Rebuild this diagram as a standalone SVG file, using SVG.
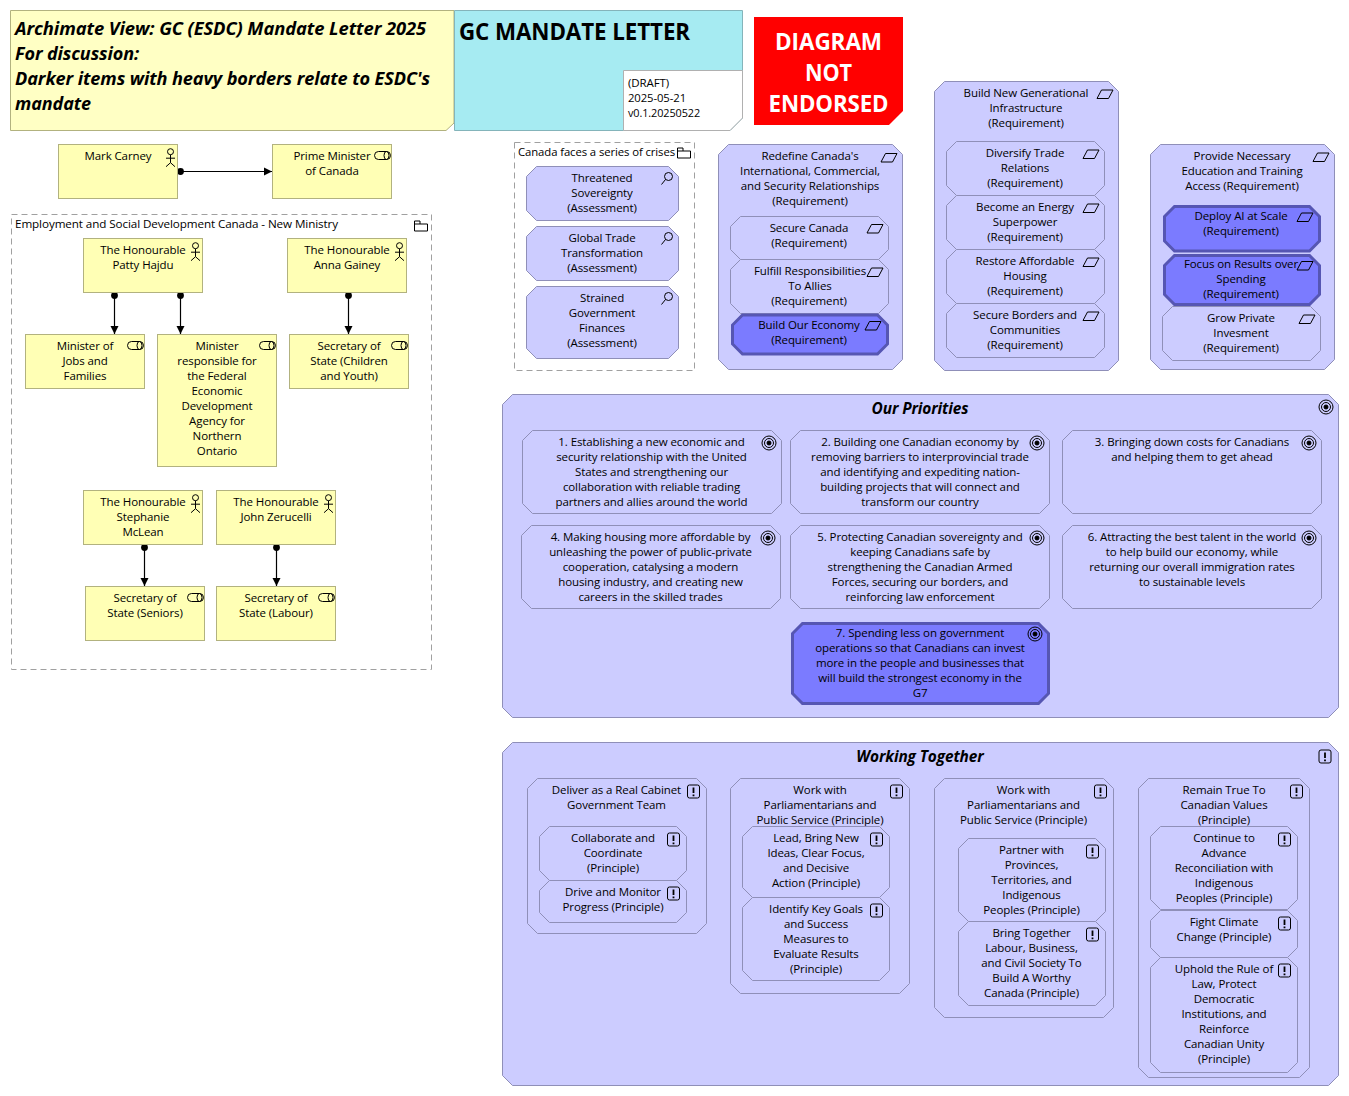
<svg xmlns="http://www.w3.org/2000/svg" width="1349" height="1096" viewBox="0 0 1349 1096">
<style>
text{font-family:"Open Sans","Noto Sans","Liberation Sans",sans-serif;font-size:11.5px;fill:#000;letter-spacing:-.1px}
.c{text-anchor:middle}
.y{fill:#ffffb5;stroke:#b2b27f;stroke-width:1}
.b{fill:#ccccff;stroke:#8f8fb8;stroke-width:1}
.d{fill:#7b7bff;stroke:#5656b3;stroke-width:3}
.g{fill:none;stroke:#a0a0a0;stroke-width:1;stroke-dasharray:6 4}
.i{fill:none;stroke:#000;stroke-width:1}
.t{font-size:15.4px;font-weight:700;font-style:italic}
.h{font-size:18px;font-weight:700;font-style:italic}
.w{fill:#fff;font-size:24px;font-weight:700}
.ln{stroke:#000;stroke-width:1.2;fill:none;marker-start:url(#dot);marker-end:url(#arr)}
</style>
<defs>
<marker id="dot" markerUnits="userSpaceOnUse" markerWidth="8" markerHeight="8" refX="4" refY="4"><circle cx="4" cy="4" r="3.4" fill="#000"/></marker>
<marker id="arr" markerUnits="userSpaceOnUse" markerWidth="9" markerHeight="9" refX="8" refY="4.5" orient="auto"><path d="M0 .5L8 4.5L0 8.500z" fill="#000"/></marker>
<g id="actor" class="i"><circle cx="0" cy="0" r="3"/><path d="M0 3V11M-4.500 6.500H4.500M0 11L-4.500 15M0 11L4.500 15"/></g>
<g id="role" class="i"><rect x="0" y="0" width="16" height="8" rx="4"/><ellipse cx="12" cy="4" rx="2.500" ry="4"/></g>
<path id="req" class="i" d="M4.500 .5H16L11.500 9H0z"/>
<g id="goal" class="i"><circle r="7"/><circle r="4.500"/><circle r="2" fill="#000"/></g>
<g id="prin"><rect x="-6" y="-6.500" width="12" height="13" rx="2" class="i"/><path d="M0 -4V1.500M0 3V4.800" stroke="#000" stroke-width="1.800" fill="none"/></g>
<path id="folder" class="i" d="M.5 .5H6V3.500H13.500V10.500H.5zM6 3.500H.5"/>
</defs>

<g id="connectors">
<path class="ln" d="M180.500 171.500H272"/>
<path class="ln" d="M114.500 295.500V334"/>
<path class="ln" d="M180.500 295.500V334"/>
<path class="ln" d="M348.500 295.500V334"/>
<path class="ln" d="M144.500 547.500V586"/>
<path class="ln" d="M276.500 547.500V586"/>
</g>

<g id="note-title"><path d="M10.500 10.500H454V123L446 130.500H10.500z" fill="#ffffc4" stroke="#b2b27f"/>
<text class="h" x="15" textLength="411" lengthAdjust="spacingAndGlyphs" y="34.500">Archimate View: GC (ESDC) Mandate Letter 2025</text>
<text class="h" x="15" y="59.500" textLength="124" lengthAdjust="spacingAndGlyphs">For discussion:</text>
<text class="h" x="15" y="84.500" textLength="415" lengthAdjust="spacingAndGlyphs">Darker items with heavy borders relate to ESDC's</text>
<text class="h" x="15" y="109.500" textLength="76" lengthAdjust="spacingAndGlyphs">mandate</text></g>

<g id="title-block"><path d="M454.500 10.500H742.500V118L730 130.500H454.500z" fill="#a6ebf2" stroke="#84b4ba"/>
<text x="459" y="40" style="font-size:24px;font-weight:700" textLength="231" lengthAdjust="spacingAndGlyphs">GC MANDATE LETTER</text></g>
<g id="note-version"><path d="M623.500 70.500H742.500V118L730 130.500H623.500z" fill="#fff" stroke="#b0b0b0"/>
<text x="628" y="87">(DRAFT)</text><text x="628" y="102" textLength="58" lengthAdjust="spacingAndGlyphs">2025-05-21</text><text x="628" y="117" textLength="72" lengthAdjust="spacingAndGlyphs">v0.1.20250522</text></g>
<g id="note-not-endorsed"><path d="M754 17H903V111L889 125H754z" fill="#ff0000"/><path d="M889 125L903 111" stroke="#ff9090" stroke-width="1" stroke-dasharray="1 1" fill="none"/>
<text class="w c" x="828.500" y="49.500" textLength="107" lengthAdjust="spacingAndGlyphs">DIAGRAM</text>
<text class="w c" x="828.500" y="80.500" textLength="47" lengthAdjust="spacingAndGlyphs">NOT</text>
<text class="w c" x="828.500" y="111.500" textLength="120" lengthAdjust="spacingAndGlyphs">ENDORSED</text></g>

<g id="mark-carney"><rect class="y" x="58.500" y="144.500" width="119" height="54"/><text class="c" x="118" y="160">Mark Carney</text><use href="#actor" x="170.500" y="151.700"/></g>
<g id="prime-minister"><rect class="y" x="272.500" y="144.500" width="119" height="54"/><text class="c" x="332" y="160">Prime Minister</text><text class="c" x="332" y="175">of Canada</text><use href="#role" x="374.500" y="151.500"/></g>

<g id="esdc-group"><rect class="g" x="11.500" y="214.500" width="420" height="455"/><text x="15" y="228" textLength="323" lengthAdjust="spacingAndGlyphs">Employment and Social Development Canada - New Ministry</text><use href="#folder" x="414" y="220.500"/></g>
<g id="patty-hajdu"><rect class="y" x="83.500" y="238.500" width="119" height="54"/><text class="c" x="143" y="254">The Honourable</text><text class="c" x="143" y="269">Patty Hajdu</text><use href="#actor" x="195.500" y="245.700"/></g>
<g id="anna-gainey"><rect class="y" x="287.500" y="238.500" width="119" height="54"/><text class="c" x="347" y="254">The Honourable</text><text class="c" x="347" y="269">Anna Gainey</text><use href="#actor" x="399.500" y="245.700"/></g>
<g id="min-jobs"><rect class="y" x="25.500" y="334.500" width="119" height="54"/><text class="c" x="85" y="350">Minister of</text><text class="c" x="85" y="365">Jobs and</text><text class="c" x="85" y="380">Families</text><use href="#role" x="127.500" y="341.500"/></g>
<g id="min-feddev"><rect class="y" x="157.500" y="334.500" width="119" height="132"/><text class="c" x="217" y="350">Minister</text><text class="c" x="217" y="365">responsible for</text><text class="c" x="217" y="380">the Federal</text><text class="c" x="217" y="395">Economic</text><text class="c" x="217" y="410">Development</text><text class="c" x="217" y="425">Agency for</text><text class="c" x="217" y="440">Northern</text><text class="c" x="217" y="455">Ontario</text><use href="#role" x="259.500" y="341.500"/></g>
<g id="sec-children"><rect class="y" x="289.500" y="334.500" width="119" height="54"/><text class="c" x="349" y="350">Secretary of</text><text class="c" x="349" y="365">State (Children</text><text class="c" x="349" y="380">and Youth)</text><use href="#role" x="391.500" y="341.500"/></g>
<g id="stephanie-mclean"><rect class="y" x="83.500" y="490.500" width="119" height="54"/><text class="c" x="143" y="506">The Honourable</text><text class="c" x="143" y="521">Stephanie</text><text class="c" x="143" y="536">McLean</text><use href="#actor" x="195.500" y="497.700"/></g>
<g id="john-zerucelli"><rect class="y" x="216.500" y="490.500" width="119" height="54"/><text class="c" x="276" y="506">The Honourable</text><text class="c" x="276" y="521">John Zerucelli</text><use href="#actor" x="328.500" y="497.700"/></g>
<g id="sec-seniors"><rect class="y" x="85.500" y="586.500" width="119" height="54"/><text class="c" x="145" y="602">Secretary of</text><text class="c" x="145" y="617">State (Seniors)</text><use href="#role" x="187.500" y="593.500"/></g>
<g id="sec-labour"><rect class="y" x="216.500" y="586.500" width="119" height="54"/><text class="c" x="276" y="602">Secretary of</text><text class="c" x="276" y="617">State (Labour)</text><use href="#role" x="318.500" y="593.500"/></g>

<g id="crises-group"><rect class="g" x="514.500" y="142.500" width="180" height="228"/><text x="518" y="156" textLength="157" lengthAdjust="spacingAndGlyphs">Canada faces a series of crises</text><use href="#folder" x="677" y="147.500"/></g>
<g id="a-sovereignty"><path class="b" d="M536.500 166.500h132l10 10v34l-10 10h-132l-10-10v-34z"/><text class="c" x="602" y="182">Threatened</text><text class="c" x="602" y="197">Sovereignty</text><text class="c" x="602" y="212">(Assessment)</text></g>
<g id="a-trade"><path class="b" d="M536.500 226.500h132l10 10v34l-10 10h-132l-10-10v-34z"/><text class="c" x="602" y="242">Global Trade</text><text class="c" x="602" y="257">Transformation</text><text class="c" x="602" y="272">(Assessment)</text></g>
<g id="a-finances"><path class="b" d="M536.500 286.500h132l10 10v52l-10 10h-132l-10-10v-52z"/><text class="c" x="602" y="302">Strained</text><text class="c" x="602" y="317">Government</text><text class="c" x="602" y="332">Finances</text><text class="c" x="602" y="347">(Assessment)</text></g>
<g id="assess-icons" class="i"><circle cx="668.500" cy="176.500" r="4"/><path d="M665.500 179.500L661.500 184.500"/><circle cx="668.500" cy="236.500" r="4"/><path d="M665.500 239.500L661.500 244.500"/><circle cx="668.500" cy="296.500" r="4"/><path d="M665.500 299.500L661.500 304.500"/></g>

<g id="r-redefine"><path class="b" d="M728.500 144.500h164l10 10v205l-10 10h-164l-10-10v-205z"/><text class="c" x="810" y="160">Redefine Canada's</text><text class="c" x="810" y="175">International, Commercial,</text><text class="c" x="810" y="190">and Security Relationships</text><text class="c" x="810" y="205">(Requirement)</text><use href="#req" x="881" y="153"/></g>
<g id="r-secure"><path class="b" d="M740.500 216.500h138l10 10v23l-10 10h-138l-10-10v-23z"/><text class="c" x="809" y="232">Secure Canada</text><text class="c" x="809" y="247">(Requirement)</text><use href="#req" x="867" y="224"/></g>
<g id="r-fulfill"><path class="b" d="M740.500 259.500h138l10 10v34l-10 10h-138l-10-10v-34z"/><text class="c" x="810" y="275">Fulfill Responsibilities</text><text class="c" x="810" y="290">To Allies</text><text class="c" x="809" y="305">(Requirement)</text><use href="#req" x="867" y="267.500"/></g>
<g id="r-economy"><path class="d" d="M742.500 315h135l10 10v19l-10 10h-135l-10-10v-19z"/><text class="c" x="809" y="329">Build Our Economy</text><text class="c" x="809" y="344">(Requirement)</text><use href="#req" x="865" y="321"/></g>

<g id="r-infra"><path class="b" d="M944.500 81.500h164l10 10v269l-10 10h-164l-10-10v-269z"/><text class="c" x="1026" y="97">Build New Generational</text><text class="c" x="1026" y="112">Infrastructure</text><text class="c" x="1026" y="127">(Requirement)</text><use href="#req" x="1097" y="89.500"/></g>
<g id="r-diversify"><path class="b" d="M956.500 141.500h138l10 10v34l-10 10h-138l-10-10v-34z"/><text class="c" x="1025" y="157">Diversify Trade</text><text class="c" x="1025" y="172">Relations</text><text class="c" x="1025" y="187">(Requirement)</text><use href="#req" x="1083" y="149.500"/></g>
<g id="r-energy"><path class="b" d="M956.500 195.500h138l10 10v34l-10 10h-138l-10-10v-34z"/><text class="c" x="1025" y="211">Become an Energy</text><text class="c" x="1025" y="226">Superpower</text><text class="c" x="1025" y="241">(Requirement)</text><use href="#req" x="1083" y="203.500"/></g>
<g id="r-housing"><path class="b" d="M956.500 249.500h138l10 10v34l-10 10h-138l-10-10v-34z"/><text class="c" x="1025" y="265">Restore Affordable</text><text class="c" x="1025" y="280">Housing</text><text class="c" x="1025" y="295">(Requirement)</text><use href="#req" x="1083" y="257.500"/></g>
<g id="r-borders"><path class="b" d="M956.500 303.500h138l10 10v34l-10 10h-138l-10-10v-34z"/><text class="c" x="1025" y="319">Secure Borders and</text><text class="c" x="1025" y="334">Communities</text><text class="c" x="1025" y="349">(Requirement)</text><use href="#req" x="1083" y="311.500"/></g>

<g id="r-education"><path class="b" d="M1160.500 144.500h164l10 10v205l-10 10h-164l-10-10v-205z"/><text class="c" x="1242" y="160">Provide Necessary</text><text class="c" x="1242" y="175">Education and Training</text><text class="c" x="1242" y="190">Access (Requirement)</text><use href="#req" x="1313" y="152.500"/></g>
<g id="r-ai"><path class="d" d="M1174.500 206.500h135l10 10v24.500l-10 10h-135l-10-10v-24.500z"/><text class="c" x="1241" y="220">Deploy AI at Scale</text><text class="c" x="1241" y="235">(Requirement)</text><use href="#req" x="1297" y="212.500"/></g>
<g id="r-results"><path class="d" d="M1174.500 255.500h135l10 10v29l-10 10h-135l-10-10v-29z"/><text class="c" x="1241" y="268">Focus on Results over</text><text class="c" x="1241" y="283">Spending</text><text class="c" x="1241" y="298">(Requirement)</text><use href="#req" x="1297" y="261"/></g>
<g id="r-invest"><path class="b" d="M1172.500 306.500h138l10 10v34l-10 10h-138l-10-10v-34z"/><text class="c" x="1241" y="322">Grow Private</text><text class="c" x="1241" y="337">Invesment</text><text class="c" x="1241" y="352">(Requirement)</text><use href="#req" x="1299" y="314.500"/></g>

<g id="priorities"><path class="b" d="M512.500 394.500h816l10 10v303l-10 10h-816l-10-10v-303z"/><text class="c t" x="920" y="414">Our Priorities</text><use href="#goal" x="1326" y="407"/></g>
<g id="g1"><path class="b" d="M532.500 430.500h239l10 10v63l-10 10h-239l-10-10v-63z"/><text class="c" x="651.500" y="446">1. Establishing a new economic and</text><text class="c" x="651.500" y="461">security relationship with the United</text><text class="c" x="651.500" y="476">States and strengthening our</text><text class="c" x="651.500" y="491">collaboration with reliable trading</text><text class="c" x="651.500" y="506">partners and allies around the world</text><use href="#goal" x="769" y="443"/></g>
<g id="g2"><path class="b" d="M800.500 430.500h239l10 10v63l-10 10h-239l-10-10v-63z"/><text class="c" x="920" y="446">2. Building one Canadian economy by</text><text class="c" x="920" y="461">removing barriers to interprovincial trade</text><text class="c" x="920" y="476">and identifying and expediting nation-</text><text class="c" x="920" y="491">building projects that will connect and</text><text class="c" x="920" y="506">transform our country</text><use href="#goal" x="1037" y="443"/></g>
<g id="g3"><path class="b" d="M1072.500 430.500h239l10 10v63l-10 10h-239l-10-10v-63z"/><text class="c" x="1192" y="446">3. Bringing down costs for Canadians</text><text class="c" x="1192" y="461">and helping them to get ahead</text><use href="#goal" x="1309" y="443"/></g>
<g id="g4"><path class="b" d="M531.500 525.500h239l10 10v63l-10 10h-239l-10-10v-63z"/><text class="c" x="650.500" y="541">4. Making housing more affordable by</text><text class="c" x="650.500" y="556">unleashing the power of public-private</text><text class="c" x="650.500" y="571">cooperation, catalysing a modern</text><text class="c" x="650.500" y="586">housing industry, and creating new</text><text class="c" x="650.500" y="601">careers in the skilled trades</text><use href="#goal" x="768" y="538"/></g>
<g id="g5"><path class="b" d="M800.500 525.500h239l10 10v63l-10 10h-239l-10-10v-63z"/><text class="c" x="920" y="541">5. Protecting Canadian sovereignty and</text><text class="c" x="920" y="556">keeping Canadians safe by</text><text class="c" x="920" y="571">strengthening the Canadian Armed</text><text class="c" x="920" y="586">Forces, securing our borders, and</text><text class="c" x="920" y="601">reinforcing law enforcement</text><use href="#goal" x="1037" y="538"/></g>
<g id="g6"><path class="b" d="M1072.500 525.500h239l10 10v63l-10 10h-239l-10-10v-63z"/><text class="c" x="1192" y="541">6. Attracting the best talent in the world</text><text class="c" x="1192" y="556">to help build our economy, while</text><text class="c" x="1192" y="571">returning our overall immigration rates</text><text class="c" x="1192" y="586">to sustainable levels</text><use href="#goal" x="1309" y="538"/></g>
<g id="g7"><path class="d" d="M802.500 623.500h236l10 10v60l-10 10h-236l-10-10v-60z"/><text class="c" x="920" y="637">7. Spending less on government</text><text class="c" x="920" y="652">operations so that Canadians can invest</text><text class="c" x="920" y="667">more in the people and businesses that</text><text class="c" x="920" y="682">will build the strongest economy in the</text><text class="c" x="920" y="697">G7</text><use href="#goal" x="1035" y="634"/></g>

<g id="working"><path class="b" d="M512.500 742.500h816l10 10v323l-10 10h-816l-10-10v-323z"/><text class="c t" x="920" y="762">Working Together</text><use href="#prin" x="1325" y="756.500"/></g>
<g id="p-deliver"><path class="b" d="M537.500 778.500h159l10 10v135l-10 10h-159l-10-10v-135z"/><text class="c" x="616.500" y="794">Deliver as a Real Cabinet</text><text class="c" x="616.500" y="809">Government Team</text><use href="#prin" x="693.500" y="791.500"/></g>
<g id="p-collab"><path class="b" d="M549.500 826.500h127l10 10v34l-10 10h-127l-10-10v-34z"/><text class="c" x="613" y="842">Collaborate and</text><text class="c" x="613" y="857">Coordinate</text><text class="c" x="613" y="872">(Principle)</text><use href="#prin" x="673.500" y="839.500"/></g>
<g id="p-drive"><path class="b" d="M549.500 880.500h127l10 10v22l-10 10h-127l-10-10v-22z"/><text class="c" x="613" y="896">Drive and Monitor</text><text class="c" x="613" y="911">Progress (Principle)</text><use href="#prin" x="673.500" y="893.500"/></g>
<g id="p-work1"><path class="b" d="M740.500 778.500h159l10 10v195l-10 10h-159l-10-10v-195z"/><text class="c" x="820" y="794">Work with</text><text class="c" x="820" y="809">Parliamentarians and</text><text class="c" x="820" y="824">Public Service (Principle)</text><use href="#prin" x="896.500" y="791.500"/></g>
<g id="p-lead"><path class="b" d="M752.500 826.500h127l10 10v51l-10 10h-127l-10-10v-51z"/><text class="c" x="816" y="842">Lead, Bring New</text><text class="c" x="816" y="857">Ideas, Clear Focus,</text><text class="c" x="816" y="872">and Decisive</text><text class="c" x="816" y="887">Action (Principle)</text><use href="#prin" x="876.500" y="839.500"/></g>
<g id="p-identify"><path class="b" d="M752.500 897.500h127l10 10v63l-10 10h-127l-10-10v-63z"/><text class="c" x="816" y="913">Identify Key Goals</text><text class="c" x="816" y="928">and Success</text><text class="c" x="816" y="943">Measures to</text><text class="c" x="816" y="958">Evaluate Results</text><text class="c" x="816" y="973">(Principle)</text><use href="#prin" x="876.500" y="910.500"/></g>
<g id="p-work2"><path class="b" d="M944.500 778.500h159l10 10v219l-10 10h-159l-10-10v-219z"/><text class="c" x="1023.500" y="794">Work with</text><text class="c" x="1023.500" y="809">Parliamentarians and</text><text class="c" x="1023.500" y="824">Public Service (Principle)</text><use href="#prin" x="1100.500" y="791.500"/></g>
<g id="p-partner"><path class="b" d="M968.500 838.500h127l10 10v63l-10 10h-127l-10-10v-63z"/><text class="c" x="1031.500" y="854">Partner with</text><text class="c" x="1031.500" y="869">Provinces,</text><text class="c" x="1031.500" y="884">Territories, and</text><text class="c" x="1031.500" y="899">Indigenous</text><text class="c" x="1031.500" y="914">Peoples (Principle)</text><use href="#prin" x="1092.500" y="851.500"/></g>
<g id="p-bring"><path class="b" d="M968.500 921.500h127l10 10v64l-10 10h-127l-10-10v-64z"/><text class="c" x="1031.500" y="937">Bring Together</text><text class="c" x="1031.500" y="952">Labour, Business,</text><text class="c" x="1031.500" y="967">and Civil Society To</text><text class="c" x="1031.500" y="982">Build A Worthy</text><text class="c" x="1031.500" y="997">Canada (Principle)</text><use href="#prin" x="1092.500" y="934.500"/></g>
<g id="p-remain"><path class="b" d="M1148.500 778.500h151l10 10v279l-10 10h-151l-10-10v-279z"/><text class="c" x="1224" y="794">Remain True To</text><text class="c" x="1224" y="809">Canadian Values</text><text class="c" x="1224" y="824">(Principle)</text><use href="#prin" x="1296.500" y="791.500"/></g>
<g id="p-continue"><path class="b" d="M1160.500 826.500h127l10 10v63l-10 10h-127l-10-10v-63z"/><text class="c" x="1224" y="842">Continue to</text><text class="c" x="1224" y="857">Advance</text><text class="c" x="1224" y="872">Reconciliation with</text><text class="c" x="1224" y="887">Indigenous</text><text class="c" x="1224" y="902">Peoples (Principle)</text><use href="#prin" x="1284.500" y="839.500"/></g>
<g id="p-climate"><path class="b" d="M1160.500 910.500h127l10 10v27l-10 10h-127l-10-10v-27z"/><text class="c" x="1224" y="926">Fight Climate</text><text class="c" x="1224" y="941">Change (Principle)</text><use href="#prin" x="1284.500" y="923.500"/></g>
<g id="p-uphold"><path class="b" d="M1160.500 957.500h127l10 10v95l-10 10h-127l-10-10v-95z"/><text class="c" x="1224" y="973">Uphold the Rule of</text><text class="c" x="1224" y="988">Law, Protect</text><text class="c" x="1224" y="1003">Democratic</text><text class="c" x="1224" y="1018">Institutions, and</text><text class="c" x="1224" y="1033">Reinforce</text><text class="c" x="1224" y="1048">Canadian Unity</text><text class="c" x="1224" y="1063">(Principle)</text><use href="#prin" x="1284.500" y="970.500"/></g>
</svg>
